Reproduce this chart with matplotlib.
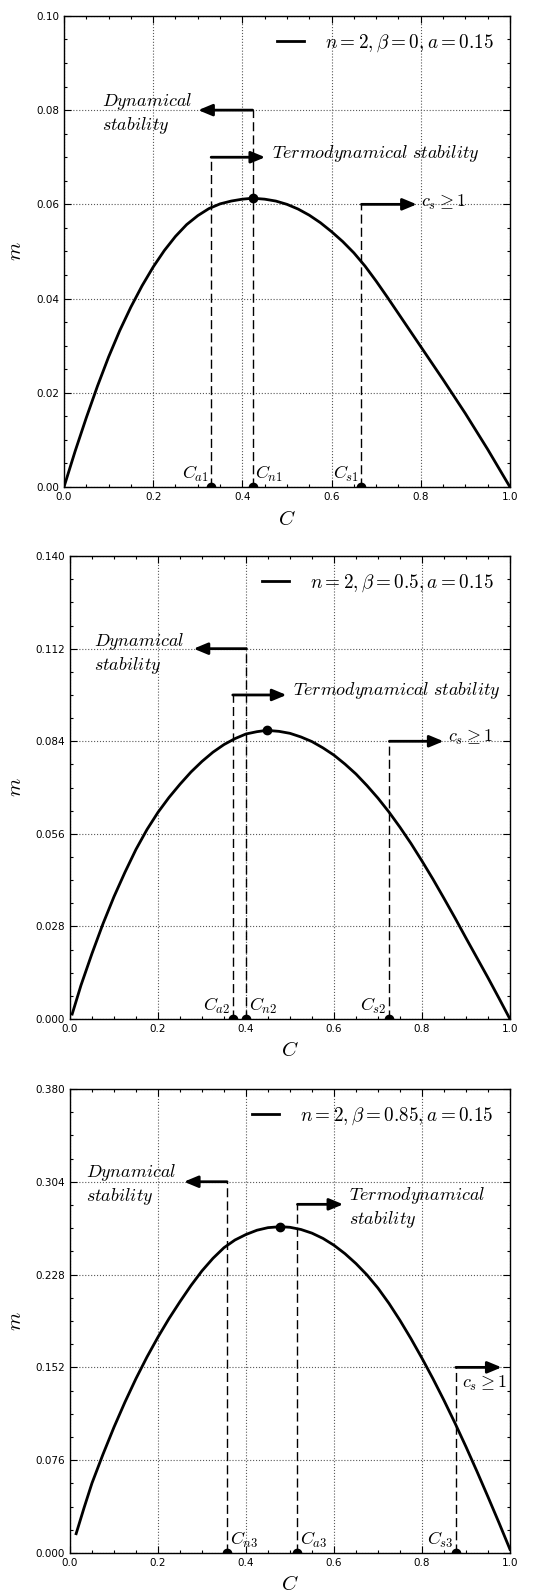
import numpy as np
import matplotlib.pyplot as plt
from matplotlib.ticker import MultipleLocator, FormatStrFormatter

plt.rcParams['mathtext.fontset'] = 'cm'
plt.rcParams['font.family'] = 'DejaVu Sans'

# m(C) curves
C1 = [0.0, 0.025, 0.05, 0.075, 0.1, 0.125, 0.15, 0.175, 0.2, 0.225, 0.25, 0.275, 0.3, 0.325,
      0.35, 0.375, 0.4, 0.423, 0.45, 0.475, 0.5, 0.525, 0.55, 0.575, 0.6, 0.625, 0.65, 0.675,
      0.7, 0.725, 0.75, 0.775, 0.8, 0.825, 0.85, 0.875, 0.9, 0.925, 0.95, 0.975, 1.0]
m1 = [0.0, 0.0076, 0.0147, 0.0214, 0.0276, 0.0332, 0.0382, 0.0427, 0.0467, 0.0502, 0.0532,
      0.0557, 0.0576, 0.0591, 0.0601, 0.0607, 0.0611, 0.0613, 0.0611, 0.0607, 0.0600, 0.0590,
      0.0577, 0.0561, 0.0542, 0.0521, 0.0497, 0.0469, 0.0437, 0.0403, 0.0368, 0.0333, 0.0298,
      0.0263, 0.0228, 0.0192, 0.0156, 0.0118, 0.0080, 0.0040, 0.0]

C2 = [0.005, 0.025, 0.05, 0.075, 0.1, 0.125, 0.15, 0.175, 0.2, 0.225, 0.25, 0.275, 0.3, 0.325,
      0.35, 0.375, 0.4, 0.425, 0.447, 0.475, 0.5, 0.525, 0.55, 0.575, 0.6, 0.625, 0.65, 0.675,
      0.7, 0.725, 0.75, 0.775, 0.8, 0.825, 0.85, 0.875, 0.9, 0.925, 0.95, 0.975, 1.0]
m2 = [0.0015, 0.0102, 0.0198, 0.0288, 0.0370, 0.0444, 0.0513, 0.0573, 0.0625, 0.0670, 0.0710,
      0.0747, 0.0779, 0.0807, 0.0830, 0.0848, 0.0862, 0.0869, 0.0873, 0.0870, 0.0864, 0.0853,
      0.0839, 0.0820, 0.0798, 0.0771, 0.0741, 0.0706, 0.0668, 0.0626, 0.0580, 0.0531, 0.0478,
      0.0423, 0.0365, 0.0306, 0.0245, 0.0185, 0.0125, 0.0063, 0.0]

C3 = [0.014, 0.032, 0.05, 0.075, 0.1, 0.125, 0.15, 0.175, 0.2, 0.225, 0.25, 0.275, 0.3, 0.325,
      0.35, 0.375, 0.4, 0.425, 0.45, 0.478, 0.5, 0.525, 0.55, 0.575, 0.6, 0.625, 0.65, 0.675,
      0.7, 0.725, 0.75, 0.775, 0.8, 0.825, 0.85, 0.875, 0.9, 0.925, 0.95, 0.975, 1.0]
m3 = [0.0158, 0.0370, 0.0572, 0.0808, 0.1030, 0.1236, 0.1428, 0.1605, 0.1768, 0.1919, 0.2058,
      0.2190, 0.2310, 0.2413, 0.2500, 0.2563, 0.2608, 0.2643, 0.2664, 0.2672, 0.2667, 0.2649,
      0.2619, 0.2576, 0.2520, 0.2451, 0.2370, 0.2277, 0.2169, 0.2044, 0.1905, 0.1755, 0.1595,
      0.1427, 0.1250, 0.1064, 0.0870, 0.0668, 0.0460, 0.0248, 0.003]

# critical points C_a, C_n, C_s and the maximum of each curve
crit1 = {'a': 0.330, 'n': 0.423, 's': 0.667}
crit2 = {'a': 0.370, 'n': 0.401, 's': 0.726}
crit3 = {'a': 0.517, 'n': 0.357, 's': 0.877}
peak1 = (0.423, 0.0613)
peak2 = (0.447, 0.0873)
peak3 = (0.478, 0.2672)

legend_labels = [r'$n=2, \beta=0, a=0.15$',
                 r'$n=2, \beta=0.5, a=0.15$',
                 r'$n=2, \beta=0.85, a=0.15$']

TXT = 13


def setup_axes(ax, ymax, ystep, yfmt):
    """axis limits, ticks and dotted grid"""
    ax.set_xlim(0, 1)
    ax.set_ylim(0, ymax)
    ax.xaxis.set_major_locator(MultipleLocator(0.2))
    ax.xaxis.set_minor_locator(MultipleLocator(0.05))
    ax.yaxis.set_major_locator(MultipleLocator(ystep))
    ax.yaxis.set_minor_locator(MultipleLocator(ystep / 4))
    ax.xaxis.set_major_formatter(FormatStrFormatter('%.1f'))
    ax.yaxis.set_major_formatter(FormatStrFormatter(yfmt))
    ax.tick_params(which='both', direction='in', top=True, right=True, labelsize=7.5, width=0.8)
    ax.tick_params(which='major', length=5)
    ax.tick_params(which='minor', length=2.5)
    ax.grid(True, which='major', linestyle=':', color='0.35', lw=0.8)
    for s in ax.spines.values():
        s.set_linewidth(1.0)
    ax.set_xlabel(r'$C$', fontsize=15)
    ax.set_ylabel(r'$m$', fontsize=15)


def vline(ax, x, top):
    ax.plot([x, x], [0, top], color='k', lw=1, ls=(0, (6.5, 3)), zorder=3)


def arrow(ax, x0, x1, y):
    ax.annotate('', xy=(x1, y), xytext=(x0, y),
                arrowprops=dict(arrowstyle='-|>,head_length=0.6,head_width=0.25', color='k',
                                lw=2, shrinkA=0, shrinkB=0, mutation_scale=14), zorder=4)


def dots(ax, xs, ys):
    ax.plot(xs, ys, 'o', color='k', ms=6, zorder=5)


def label(ax, x, txt, ha):
    dx = -0.006 if ha == 'right' else 0.006
    ax.text(x + dx, 0.006, txt, ha=ha, va='bottom', fontsize=TXT,
            transform=ax.get_xaxis_transform())


fig = plt.figure(figsize=(5.35, 15.92), dpi=100)
ax1 = fig.add_axes([0.1196, 0.6941, 0.8336, 0.2959])
ax2 = fig.add_axes([0.1308, 0.3599, 0.8224, 0.2908])
ax3 = fig.add_axes([0.1308, 0.0245, 0.8224, 0.2915])

# ---- panel 1
ax = ax1
setup_axes(ax, 0.10, 0.02, '%.2f')
ax.plot(C1, m1, color='k', lw=2, label=legend_labels[0], zorder=4)
vline(ax, crit1['n'], 0.08)
vline(ax, crit1['a'], 0.07)
vline(ax, crit1['s'], 0.06)
arrow(ax, crit1['n'], 0.301, 0.08)
arrow(ax, crit1['a'], 0.451, 0.07)
arrow(ax, crit1['s'], 0.791, 0.06)
ax.text(0.287, 0.0792, '$Dynamical$\n$stability$', ha='right', va='center', ma='left', fontsize=TXT)
ax.text(0.466, 0.0708, r'$Termodynamical\ stability$', ha='left', va='center', fontsize=TXT)
ax.text(0.800, 0.0603, r'$c_s \geq 1$', ha='left', va='center', fontsize=TXT)
dots(ax, [crit1['a'], crit1['n'], crit1['s'], peak1[0]], [0, 0, 0, peak1[1]])
label(ax, crit1['a'], r'$C_{a1}$', 'right')
label(ax, crit1['n'], r'$C_{n1}$', 'left')
label(ax, crit1['s'], r'$C_{s1}$', 'right')
ax.xaxis.set_label_coords(0.5, -0.047)
ax.yaxis.set_label_coords(-0.087, 0.5)

# ---- panel 2
ax = ax2
setup_axes(ax, 0.14, 0.028, '%.3f')
ax.plot(C2, m2, color='k', lw=2, label=legend_labels[1], zorder=4)
vline(ax, crit2['n'], 0.112)
vline(ax, crit2['a'], 0.098)
vline(ax, crit2['s'], 0.084)
arrow(ax, crit2['n'], 0.281, 0.112)
arrow(ax, crit2['a'], 0.492, 0.098)
arrow(ax, crit2['s'], 0.849, 0.084)
ax.text(0.259, 0.1106, '$Dynamical$\n$stability$', ha='right', va='center', ma='left', fontsize=TXT)
ax.text(0.506, 0.0995, r'$Termodynamical\ stability$', ha='left', va='center', fontsize=TXT)
ax.text(0.860, 0.0850, r'$c_s \geq 1$', ha='left', va='center', fontsize=TXT)
dots(ax, [crit2['a'], crit2['n'], crit2['s'], peak2[0]], [0, 0, 0, peak2[1]])
label(ax, crit2['a'], r'$C_{a2}$', 'right')
label(ax, crit2['n'], r'$C_{n2}$', 'left')
label(ax, crit2['s'], r'$C_{s2}$', 'right')
ax.xaxis.set_label_coords(0.5, -0.046)
ax.yaxis.set_label_coords(-0.102, 0.5)

# ---- panel 3
ax = ax3
setup_axes(ax, 0.38, 0.076, '%.3f')
ax.plot(C3, m3, color='k', lw=2, label=legend_labels[2], zorder=4)
vline(ax, crit3['n'], 0.304)
vline(ax, crit3['a'], 0.2855)
vline(ax, crit3['s'], 0.152)
arrow(ax, crit3['n'], 0.259, 0.304)
arrow(ax, crit3['a'], 0.621, 0.2855)
arrow(ax, crit3['s'], 0.981, 0.152)
ax.text(0.241, 0.3015, '$Dynamical$\n$stability$', ha='right', va='center', ma='left', fontsize=TXT)
ax.text(0.634, 0.2830, '$Termodynamical$\n$stability$', ha='left', va='center', ma='left', fontsize=TXT)
ax.text(0.890, 0.139, r'$c_s \geq 1$', ha='left', va='center', fontsize=TXT)
dots(ax, [crit3['n'], crit3['a'], crit3['s'], peak3[0]], [0, 0, 0, peak3[1]])
label(ax, crit3['n'], r'$C_{n3}$', 'left')
label(ax, crit3['a'], r'$C_{a3}$', 'left')
label(ax, crit3['s'], r'$C_{s3}$', 'right')
ax.xaxis.set_label_coords(0.5, -0.046)
ax.yaxis.set_label_coords(-0.102, 0.5)

for ax in [ax1, ax2, ax3]:
    ax.legend(loc='upper right', frameon=False, fontsize=13.8, handlelength=1.4,
              handletextpad=1.1, borderaxespad=0.45)

fig.savefig('out.png', dpi=100)
